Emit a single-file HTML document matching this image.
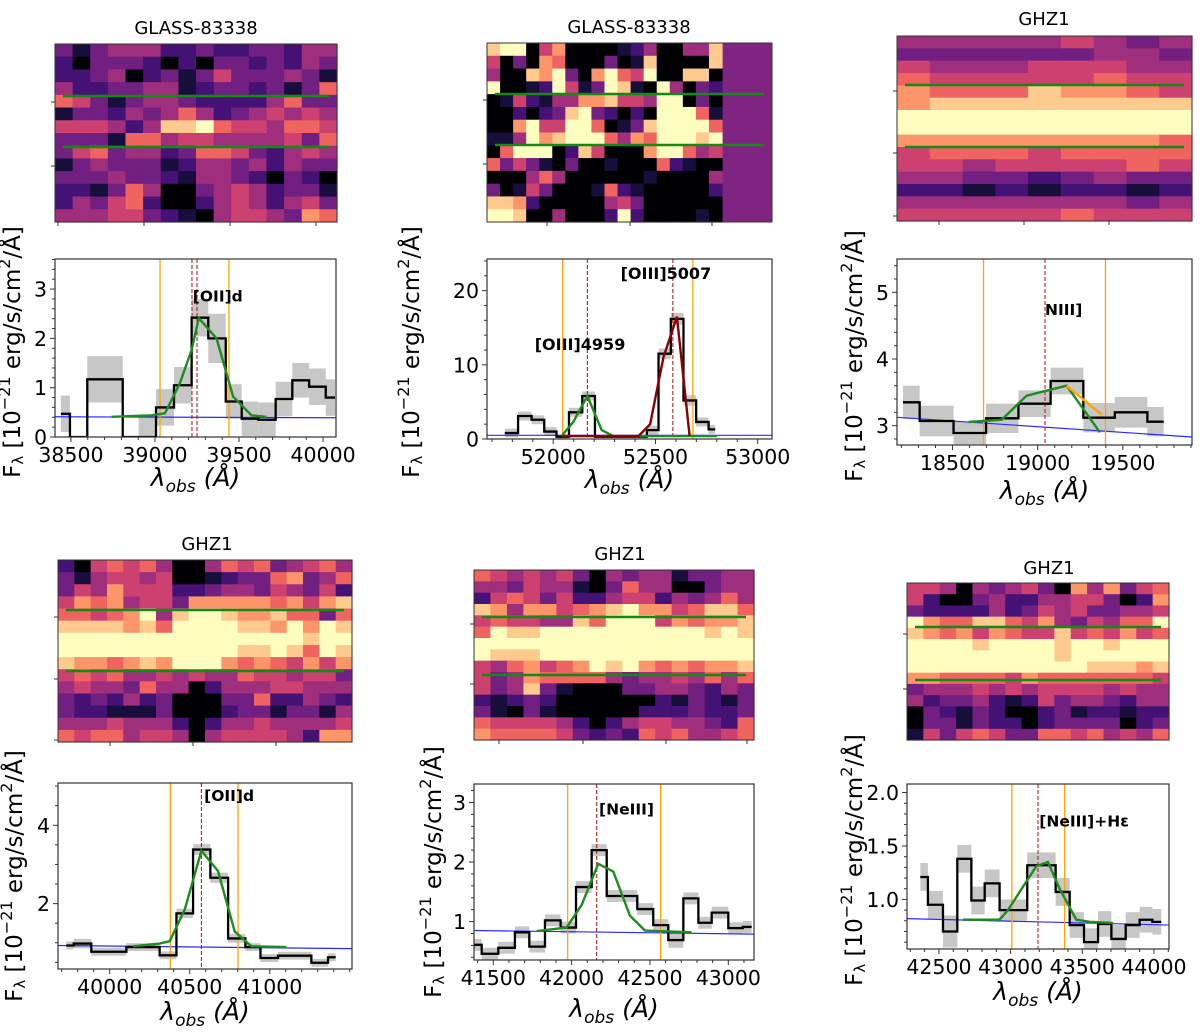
<!DOCTYPE html>
<html><head><meta charset="utf-8">
<style>
html,body{margin:0;padding:0;background:#fff;}
svg{display:block;font-family:"DejaVu Sans","Liberation Sans",sans-serif;}
</style></head>
<body>
<svg id="fig" width="1200" height="1034" viewBox="0 0 1200 1034" xmlns="http://www.w3.org/2000/svg"></svg>
<script>
// ---------- Spectrum data ----------
const p1Edges=[38440,38494,38597,38808,38903,39006,39113,39218,39317,39421,39516,39615,39718,39817,39917,40016,40071];
const p1Flux=[0.47,0,1.17,0,0,0.6,1.05,2.42,2.0,0.72,0.37,0.35,0.77,1.15,1.02,0.8];
const p1Err=[0.37,0,0.47,0,0.45,0.37,0.37,0.38,0.5,0.35,0.35,0.35,0.35,0.35,0.37,0.37];
const p1FitX=[38742,38980,39059,39148,39218,39261,39366,39465,39574,39663];
const p1FitY=[0.41,0.44,0.48,1.09,1.77,2.41,2.0,0.82,0.44,0.41];
const p1ContX=[38405,40077];const p1ContY=[0.41,0.39];
const p1Orange=[39030,39440];const p1Red=[39220,39250];
const p1XTicks=[38500,39000,39500,40000];const p1YTicks=[0,1,2,3];const p1YLabels=["0","1","2","3"];

const p2Edges=[51763,51828,51894,51956,52016,52077,52142,52204,52458,52515,52575,52637,52699,52760,52792];
const p2Flux=[0.8,3.1,2.6,1.0,0.3,3.6,5.8,0.3,1.2,11.5,16.2,5.2,2.3,1.3];
const p2Err=[0.6,0.6,0.6,0.6,0.3,0.6,0.6,0.2,0.6,0.7,0.8,0.7,0.6,0.6];
const p2FitX=[52041,52098,52167,52237,52294,52800];
const p2FitY=[0.4,2.3,5.8,1.2,0.4,0.4];
const p2Fit2X=[52046,52417,52474,52539,52605,52667];
const p2Fit2Y=[0.4,0.4,2,11,16.5,0.4];
const p2ContX=[51676,53070];const p2ContY=[0.5,0.5];
const p2Orange=[52046,52683];const p2Red=[52167,52585];
const p2XTicks=[52000,52500,53000];const p2YTicks=[0,10,20];const p2YLabels=["0","10","20"];

const p3Edges=[18209,18307,18506,18697,18887,19076,19268,19453,19644,19740];
const p3Flux=[3.35,3.07,2.89,3.11,3.33,3.67,3.12,3.2,3.06];
const p3Err=[0.25,0.23,0.17,0.22,0.2,0.2,0.22,0.23,0.22];
const p3FitX=[18594,18789,18935,19170,19365];
const p3FitY=[3.055,3.09,3.45,3.6,2.9];
const p3Fit2X=[19170,19375];const p3Fit2Y=[3.6,3.165];
const p3ContX=[18174,19906];const p3ContY=[3.125,2.83];
const p3Orange=[18682,19398];const p3Red=[19043];
const p3XTicks=[18500,19000,19500];const p3YTicks=[3,4,5];const p3YLabels=["3","4","5"];

const p4Edges=[39729,39775,39885,40104,40312,40417,40521,40629,40740,40848,40942,41052,41260,41364,41412];
const p4Flux=[0.93,0.98,0.77,0.89,0.68,1.75,3.38,2.66,1.11,0.89,0.61,0.67,0.49,0.63];
const p4Err=[0.1,0.12,0.1,0.1,0.1,0.12,0.14,0.13,0.11,0.1,0.1,0.1,0.1,0.1];
const p4FitX=[40146,40312,40375,40469,40573,40677,40781,40885,41104];
const p4FitY=[0.91,0.98,1.04,1.85,3.35,2.83,1.29,0.91,0.89];
const p4ContX=[39677,41514];const p4ContY=[0.93,0.85];
const p4Orange=[40379,40802];const p4Red=[40573];
const p4XTicks=[40000,40500,41000];const p4YTicks=[2,4];const p4YLabels=["2","4"];

const p5Edges=[41377,41426,41532,41638,41730,41830,41930,42028,42128,42224,42419,42521,42617,42713,42809,42894,43000,43092,43149];
const p5Flux=[0.61,0.46,0.56,0.82,0.58,1.02,0.9,1.58,2.2,1.43,1.21,0.94,0.69,1.39,0.98,1.15,0.89,0.91];
const p5Err=[0.1,0.1,0.1,0.1,0.1,0.1,0.1,0.1,0.1,0.1,0.1,0.1,0.13,0.1,0.1,0.1,0.1,0.1];
const p5FitX=[41777,41968,42064,42170,42266,42372,42468,42766];
const p5FitY=[0.84,0.9,1.28,1.97,1.84,1.1,0.85,0.82];
const p5ContX=[41377,43164];const p5ContY=[0.85,0.79];
const p5Orange=[41975,42568];const p5Red=[42160];
const p5XTicks=[41500,42000,42500,43000];const p5YTicks=[1,2,3];const p5YLabels=["1","2","3"];

const p6Edges=[42370,42423,42528,42628,42726,42819,42923,43116,43314,43412,43512,43610,43703,43803,43900,43989,44051];
const p6Flux=[1.21,0.95,0.7,1.38,0.99,1.15,0.9,1.32,1.07,0.76,0.6,0.77,0.63,0.76,0.81,0.79];
const p6Err=[0.13,0.13,0.15,0.13,0.13,0.13,0.1,0.12,0.13,0.12,0.13,0.12,0.13,0.12,0.12,0.12];
const p6FitX=[42667,42923,42981,43063,43179,43260,43342,43458,43551,43714];
const p6FitY=[0.81,0.81,0.9,1.07,1.31,1.35,1.1,0.81,0.79,0.78];
const p6ContX=[42277,44105];const p6ContY=[0.82,0.76];
const p6Orange=[43009,43377];const p6Red=[43191];
const p6XTicks=[42500,43000,43500,44000];const p6YTicks=[1.0,1.5,2.0];const p6YLabels=["1.0","1.5","2.0"];

// ---------- 2D spectra (magma levels 0-9) ----------
const h1Rows=["3134442232233244","2033320203323243","2234023135333431","4223344123323136","6531344322224633","1332434642345454","5554248896554665","3331664554444536","3563442366532454","1343331244342433","3334332144320320","2213640034542331","2435620024542453","4445532104554376"];
const h2Rows=["899057000012400448","503076000301800008","400879307965900880","900129513981094032","015214477855499030","002023893202099961","007955996013899996","114978999647699989","069990285000799645","635310300100062100","000464000000100004","301530001621000002","887200000453000000","998004000292000010"];
const h3Rows=["444445434","333333443","544455544","655555655","766687765","788888888","999999999","999999999","777777776","566656666","554555565","443323433","221212212","444444434","555556555"];
const h4Rows=["205656400465634564","314554500123367346","354755522344354352","576745537777767578","665679489987786636","888878699998879798","999999999999999899","999999999998898698","877678799976765757","565644545446554553","454436440244455444","323242300033622432","322111300023313314","444544420244544445","656645540455554277"];
const h5Rows=["65454530434413344","44354410364400344","25653522455243464","87477567897756886","56554486999576778","69889999999999898","99999999999999999","98889999999999999","54675679897676778","53476666434454646","53483100033443243","21232000000213213","31031000002223223","65555420245544326","76666532326564456"];
const h6Rows=["5540434530747356","5200342244553027","3222242354533445","9766886574354669","8767576558565756","9999899998998999","9999999998999999","9999999999988878","7766665766666665","3444545455554544","4233421253443244","0321320023122122","0331322023333023","1535653366564546"];

const NS='http://www.w3.org/2000/svg';
const svg=document.getElementById('fig');
function mk(tag,attrs,parent){const e=document.createElementNS(NS,tag);for(const k in attrs)e.setAttribute(k,attrs[k]);(parent||svg).appendChild(e);return e;}

const magma=[[0,0,4],[20,14,54],[59,15,112],[100,26,128],[140,41,129],[183,55,121],[222,73,104],[247,112,92],[254,159,109],[254,207,146],[252,253,191]];
function cmap(d){const t=d/9*10;const i=Math.min(9,Math.floor(t));const f=t-i;const a=magma[i],b=magma[i+1];
 return 'rgb('+a.map((v,k)=>Math.round(v+(b[k]-v)*f)).join(',')+')';}

function heatmap(name,rows,box,greens,lticks,bticks,title,tx,ty,stripX){
 const g=mk('g',{});
 
 
 const [x0,y0,x1,y1]=box;
 const nr=rows.length;
 const ncTotal=rows[0].length;
 const xEnd=stripX||x1;
 const cw=(xEnd-x0)/ncTotal,ch=(y1-y0)/nr;
 if(stripX){mk('rect',{x:stripX,y:y0,width:x1-stripX,height:y1-y0,fill:cmap(3.3)},g);}
 rows.forEach((r,i)=>{for(let j=0;j<r.length;j++){
  const c=mk('rect',{x:(x0+j*cw).toFixed(2),y:(y0+i*ch).toFixed(2),width:(cw+0.6).toFixed(2),height:(ch+0.6).toFixed(2),fill:cmap(+r[j])},g);
  
  
 }});
 greens.forEach(gy=>{const l=mk('line',{x1:x0+8,x2:x1-8,y1:gy,y2:gy,stroke:'#138a13','stroke-width':2.5},g);
  
  });
 mk('rect',{x:x0,y:y0,width:x1-x0,height:y1-y0,fill:'none',stroke:'#333','stroke-width':1},g);
 lticks.forEach(t=>mk('line',{x1:x0-4,x2:x0,y1:t,y2:t,stroke:'#333'},g));
 bticks.forEach(t=>mk('line',{x1:t,x2:t,y1:y1,y2:y1+4,stroke:'#333'},g));
 const tt=mk('text',{x:tx,y:ty,'text-anchor':'middle','font-size':18,fill:'#000'},g);
 tt.textContent=title;
 
 
}

let clipId=0;
function spectrum(name,box,xd,yd,edges,flux,err,fx,fy,f2x,f2y,f2col,cx,cy,orange,red,xt,yt,ytl,yminor,label,lx,ly,ylabX,ylabY,xlabY){
 const [x0,y0,x1,y1]=box;
 const X=v=>x0+(v-xd[0])/(xd[1]-xd[0])*(x1-x0);
 const Y=v=>y1-(v-yd[0])/(yd[1]-yd[0])*(y1-y0);
 const g=mk('g',{});
 
 
 const id='c'+(clipId++);
 const cp=mk('clipPath',{id:id},g);mk('rect',{x:x0,y:y0,width:x1-x0,height:y1-y0},cp);
 const pg=mk('g',{'clip-path':'url(#'+id+')'},g);
 for(let i=0;i<flux.length;i++){ if(err[i]<=0)continue;
  const r=mk('rect',{x:X(edges[i]),y:Y(flux[i]+err[i]),width:X(edges[i+1])-X(edges[i]),height:Y(flux[i]-err[i])-Y(flux[i]+err[i]),fill:'#bdbdbd',opacity:0.85},pg);
  
  }
 let cl=mk('polyline',{points:cx.map((v,i)=>X(v)+','+Y(cy[i])).join(' '),fill:'none',stroke:'#2a2aff','stroke-width':1.2},pg);
 
 
 orange.forEach(v=>{const l=mk('line',{x1:X(v),x2:X(v),y1:y0,y2:y1,stroke:'#ffa500','stroke-width':1.3},pg);
  
  });
 red.forEach(v=>{const l=mk('line',{x1:X(v),x2:X(v),y1:y0,y2:y1,stroke:'#b22222','stroke-width':1.1,'stroke-dasharray':'4,2'},pg);
  
  });
 let d='M'+X(edges[0])+','+Y(flux[0]);
 for(let i=0;i<flux.length;i++){d+=' L'+X(edges[i+1])+','+Y(flux[i]);if(i+1<flux.length)d+=' L'+X(edges[i+1])+','+Y(flux[i+1]);}
 const st=mk('path',{d:d,fill:'none',stroke:'#000','stroke-width':2.3},pg);
 
 
 const fl=mk('polyline',{points:fx.map((v,i)=>X(v)+','+Y(fy[i])).join(' '),fill:'none',stroke:'#1e8c1e','stroke-width':2.4},pg);
 
 
 if(f2x){const f2=mk('polyline',{points:f2x.map((v,i)=>X(v)+','+Y(f2y[i])).join(' '),fill:'none',stroke:f2col,'stroke-width':2.4},pg);
  
  }
 mk('rect',{x:x0,y:y0,width:x1-x0,height:y1-y0,fill:'none',stroke:'#333','stroke-width':1.2},g);
 for(let v=Math.ceil(xd[0]/100)*100;v<=xd[1];v+=100){const px=X(v);const maj=xt.includes(v);
  mk('line',{x1:px,x2:px,y1:y1,y2:y1+(maj?5:3),stroke:'#333'},g);}
 xt.forEach(v=>{const t=mk('text',{x:X(v),y:y1+25,'text-anchor':'middle','font-size':20.5},g);t.textContent=v;
  });
 for(let k=Math.ceil(yd[0]/yminor-1e-6);k*yminor<=yd[1]+1e-9;k++){const v=k*yminor;
  const maj=yt.some(t=>Math.abs(t-v)<1e-6);mk('line',{x1:x0-(maj?5:3),x2:x0,y1:Y(v),y2:Y(v),stroke:'#333'},g);}
 yt.forEach((v,i)=>{const t=mk('text',{x:x0-8,y:Y(v)+7.5,'text-anchor':'end','font-size':20.5},g);t.textContent=ytl[i];
  });
 const lt=mk('text',{x:X(lx),y:Y(ly),'font-size':15.5,'font-weight':'bold'},g);lt.textContent=label;
 
 const yl=mk('text',{x:ylabX,y:ylabY,'text-anchor':'middle','font-size':23,transform:'rotate(-90 '+ylabX+' '+ylabY+')'},g);
 yl.innerHTML='F<tspan font-size="15" baseline-shift="-3">λ</tspan> [10<tspan font-size="16" baseline-shift="10">−21</tspan> erg/s/cm<tspan font-size="16" baseline-shift="10">2</tspan>/Å]';
 
 const xl=mk('text',{x:(x0+x1)/2,y:xlabY,'text-anchor':'middle','font-size':25,'font-style':'italic'},g);
 xl.innerHTML='λ<tspan font-size="17" baseline-shift="-6">obs</tspan> (Å)';
 
}

heatmap('spectrum-2d-glass-oii',h1Rows,[55,44,337,222],[96,147],[102,166],[58,144,230,316],'GLASS-83338',196,34);
heatmap('spectrum-2d-glass-oiii',h2Rows,[487,43,772,222],[94,145],[100,164],[547,630,712],'GLASS-83338',629,33,722);
heatmap('spectrum-2d-ghz1-niii',h3Rows,[897,36,1192,221],[85,147],[91,153,216],[939,1024,1109],'GHZ1',1044,25);
heatmap('spectrum-2d-ghz1-oii',h4Rows,[58,560,352,742],[610,671],[617,679,740],[110,193,276],'GHZ1',207,550);
heatmap('spectrum-2d-ghz1-neiii',h5Rows,[474,570,754,740],[617,675],[624,684],[499,583,666,747],'GHZ1',620,560);
heatmap('spectrum-2d-ghz1-neiii-heps',h6Rows,[907,583,1169,740],[627,680],[634,689],[],'GHZ1',1049,574);

spectrum('spectrum-glass-oii',[55,259,336,437],[38405,40077],[0,3.61],p1Edges,p1Flux,p1Err,p1FitX,p1FitY,null,null,null,p1ContX,p1ContY,p1Orange,p1Red,p1XTicks,p1YTicks,p1YLabels,0.2,'[OII]d',39225,2.75,20,352,486);
spectrum('spectrum-glass-oiii',[487,259,772,439],[51676,53070],[0,24.27],p2Edges,p2Flux,p2Err,p2FitX,p2FitY,p2Fit2X,p2Fit2Y,'#8b0000',p2ContX,p2ContY,p2Orange,p2Red,p2XTicks,p2YTicks,p2YLabels,2,'',0,0,419,352,488);
spectrum('spectrum-ghz1-niii',[897,259,1192,445],[18174,19906],[2.71,5.5],p3Edges,p3Flux,p3Err,p3FitX,p3FitY,p3Fit2X,p3Fit2Y,'#ffa500',p3ContX,p3ContY,p3Orange,p3Red,p3XTicks,p3YTicks,p3YLabels,0.2,'NIII]',19043,4.66,862,356,499);
spectrum('spectrum-ghz1-oii',[58,783,352,969],[39677,41514],[0.33,5.08],p4Edges,p4Flux,p4Err,p4FitX,p4FitY,null,null,null,p4ContX,p4ContY,p4Orange,p4Red,p4XTicks,p4YTicks,p4YLabels,0.5,'[OII]d',40590,4.62,22,876,1020);
spectrum('spectrum-ghz1-neiii',[474,784,754,960],[41377,43164],[0.355,3.31],p5Edges,p5Flux,p5Err,p5FitX,p5FitY,null,null,null,p5ContX,p5ContY,p5Orange,p5Red,p5XTicks,p5YTicks,p5YLabels,0.2,'[NeIII]',42175,2.8,441,872,1017);
spectrum('spectrum-ghz1-neiii-heps',[907,784,1169,949],[42277,44105],[0.536,2.08],p6Edges,p6Flux,p6Err,p6FitX,p6FitY,null,null,null,p6ContX,p6ContY,p6Orange,p6Red,p6XTicks,p6YTicks,p6YLabels,0.1,'[NeIII]+Hε',43200,1.68,862,860,1000);

(function(){const x0=487,x1=772,xd=[51676,53070],y0=259,y1=439,yd=[0,24.27];
 const X=v=>x0+(v-xd[0])/(xd[1]-xd[0])*(x1-x0),Y=v=>y1-(v-yd[0])/(yd[1]-yd[0])*(y1-y0);
 const a=mk('text',{x:X(52131),y:Y(12.0),'text-anchor':'middle','font-size':16,'font-weight':'bold'});a.textContent='[OIII]4959';
 
 
 const b=mk('text',{x:X(52551),y:Y(21.6),'text-anchor':'middle','font-size':16,'font-weight':'bold'});b.textContent='[OIII]5007';
 
 
})();
</script>
</body></html>
